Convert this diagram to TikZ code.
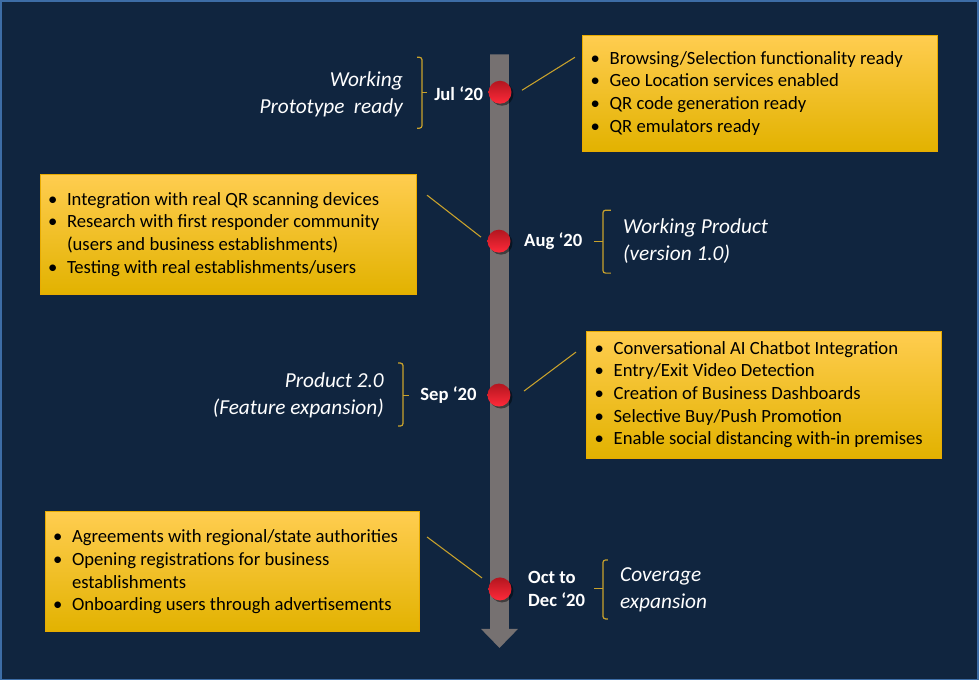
\documentclass[tikz,border=0pt]{standalone}
\usepackage{fontspec}
\setmainfont{Carlito}
\usetikzlibrary{shadows}

\definecolor{navy}{HTML}{10253F}
\definecolor{frame}{HTML}{3D6DA6}
\definecolor{bar}{HTML}{767171}
\definecolor{gold}{HTML}{C9A22C}
\definecolor{boxtop}{HTML}{FFCD50}
\definecolor{boxmid}{HTML}{FFC300}
\definecolor{boxbot}{HTML}{E2B200}
\definecolor{boxline}{HTML}{E9AB00}
\definecolor{dotdark}{HTML}{B3161F}
\definecolor{dotlight}{HTML}{FF2A3A}

\newcommand\bul{\makebox[14.25pt][l]{\textbullet}}
\newcommand\ind{\hspace*{14.25pt}}

\begin{document}
\begin{tikzpicture}[x=0.75pt,y=-0.75pt,
  panel/.style={rectangle, draw=boxline, line width=0.75pt, inner sep=0pt,
    top color=boxtop, middle color=boxmid, bottom color=boxbot},
  items/.style={anchor=west, inner sep=0pt, align=left, text=black,
    font=\fontsize{14}{17}\selectfont},
  dot/.style={circle, minimum size=17.25pt, inner sep=0pt,
    top color=dotdark, bottom color=dotlight,
    drop shadow={shadow xshift=1.5pt, shadow yshift=-1.5pt, opacity=0.45, fill=black}},
  date/.style={inner sep=0pt, align=left, text=white,
    font=\fontsize{14}{17}\selectfont\bfseries},
  phase/.style={inner sep=0pt, text=white,
    font=\fontsize{16}{20}\selectfont\itshape},
  bracket/.style={draw=gold, line width=0.9pt, rounded corners=2pt},
  link/.style={draw=gold, line width=0.8pt}]

% backdrop and frame
\fill[navy] (0,0) rectangle (979,680);
\draw[frame, line width=1.2pt] (0.5,0.5) rectangle (978.5,679.5);

% timeline shaft with arrow head
\fill[bar] (490,54) -- (509,54) -- (509,629) -- (518,629) -- (499.5,648)
  -- (481,629) -- (490,629) -- cycle;

% milestone dots
\node[dot] (c1) at (500,92) {};
\node[dot] (c2) at (499,241) {};
\node[dot] (c3) at (499,395) {};
\node[dot] (c4) at (500,589) {};

% dates
\node[date, anchor=west] (d1) at (434,93) {Jul ‘20};
\node[date, anchor=west] (d2) at (524,241) {Aug ‘20};
\node[date, anchor=west] (d3) at (420,395) {Sep ‘20};
\node[date, anchor=west] (d4) at (528,589) {Oct to\\Dec ‘20};

% phase names
\node[phase, anchor=east, align=right] (p1) at (403,94) {Working\\Prototype\hspace{7pt}ready};
\node[phase, anchor=west, align=left] (p2) at (623,241) {Working Product\\(version 1.0)};
\node[phase, anchor=east, align=right] (p3) at (384,395) {Product 2.0\\(Feature expansion)};
\node[phase, anchor=west, align=left] (p4) at (620,590) {Coverage\\expansion};

% brackets
\draw[bracket] (417,57) -- (422,57) -- (422,128) -- (417,128);
\draw[link] (422,92) -- (427,92);
\draw[bracket] (611,210) -- (603,210) -- (603,273) -- (611,273);
\draw[link] (603,241) -- (594,241);
\draw[bracket] (398,363) -- (403,363) -- (403,426) -- (398,426);
\draw[link] (403,395) -- (409,395);
\draw[bracket] (608,560) -- (603,560) -- (603,619) -- (608,619);
\draw[link] (603,589) -- (594,589);

% detail panels
\node[panel, minimum width=266.25pt, minimum height=87pt] (b1) at (760.5,93) {};
\node[items] (t1) at ([xshift=6pt]b1.west) {%
  \bul Browsing/Selection functionality ready\\
  \bul Geo Location services enabled\\
  \bul QR code generation ready\\
  \bul QR emulators ready};

\node[panel, minimum width=282pt, minimum height=90pt] (b2) at (228,234) {};
\node[items] (t2) at ([xshift=6pt]b2.west) {%
  \bul Integration with real QR scanning devices\\
  \bul Research with first responder community\\
  \ind (users and business establishments)\\
  \bul Testing with real establishments/users};

\node[panel, minimum width=266.25pt, minimum height=95.25pt] (b3) at (764.5,394.5) {};
\node[items] (t3) at ([xshift=6pt]b3.west) {%
  \bul Conversational AI Chatbot Integration\\
  \bul Entry/Exit Video Detection\\
  \bul Creation of Business Dashboards\\
  \bul Selective Buy/Push Promotion\\
  \bul Enable social distancing with-in premises};

\node[panel, minimum width=280.5pt, minimum height=90pt] (b4) at (232,572) {};
\node[items] (t4) at ([xshift=6pt]b4.west) {%
  \bul Agreements with regional/state authorities\\
  \bul Opening registrations for business\\
  \ind establishments\\
  \bul Onboarding users through advertisements};

% leader lines from dots to panels
\coordinate (k1a) at (522,90);  \coordinate (k1b) at (575,57);
\coordinate (k2a) at (481,237); \coordinate (k2b) at (427,195);
\coordinate (k3a) at (524,391); \coordinate (k3b) at (576,352);
\coordinate (k4a) at (482,578); \coordinate (k4b) at (427,537);
\draw[link] (k1a) -- (k1b);
\draw[link] (k2a) -- (k2b);
\draw[link] (k3a) -- (k3b);
\draw[link] (k4a) -- (k4b);
\end{tikzpicture}
\end{document}
